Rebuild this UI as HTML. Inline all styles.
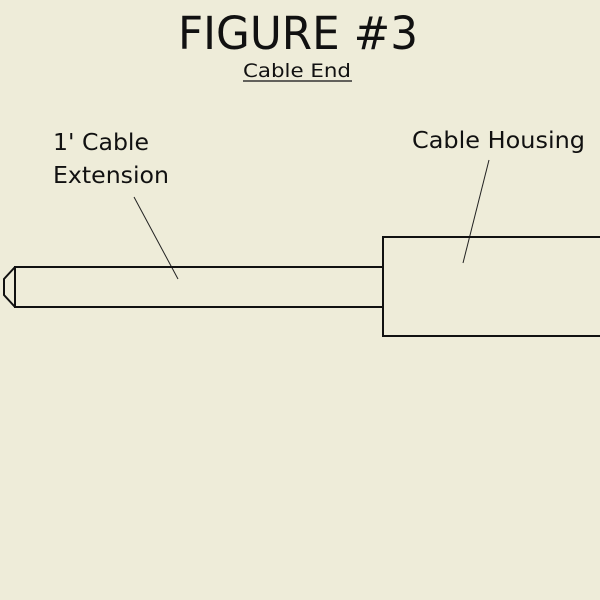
<!DOCTYPE html>
<html><head><style>
body{margin:0;background:#eeecd9;}
svg{display:block}
text{font-family:"DejaVu Sans","Liberation Sans",sans-serif;fill:#111}
</style></head><body>
<svg width="600" height="600" viewBox="0 0 600 600">
<rect width="600" height="600" fill="#eeecd9"/>
<text x="298" y="49" font-size="45" text-anchor="middle" textLength="240" lengthAdjust="spacingAndGlyphs">FIGURE #3</text>
<text x="297" y="77" font-size="19" text-anchor="middle" textLength="108" lengthAdjust="spacingAndGlyphs">Cable End</text>
<line x1="243" y1="81" x2="352" y2="81" stroke="#333" stroke-width="1.5"/>
<text x="53" y="150" font-size="23" textLength="96" lengthAdjust="spacingAndGlyphs">1' Cable</text>
<text x="53" y="183" font-size="23" textLength="116" lengthAdjust="spacingAndGlyphs">Extension</text>
<text x="412" y="148" font-size="23" textLength="173" lengthAdjust="spacingAndGlyphs">Cable Housing</text>
<line x1="134" y1="197" x2="178" y2="279" stroke="#222" stroke-width="1"/>
<line x1="489" y1="160" x2="463" y2="263" stroke="#222" stroke-width="1"/>
<g fill="none" stroke="#111" stroke-width="2">
<rect x="15" y="267" width="368" height="40"/>
<polyline points="15,267 4,279 4,295 15,307"/>
<polyline points="383,307 383,336 602,336"/>
<polyline points="383,267 383,237 602,237"/>
</g>
</svg>
</body></html>
